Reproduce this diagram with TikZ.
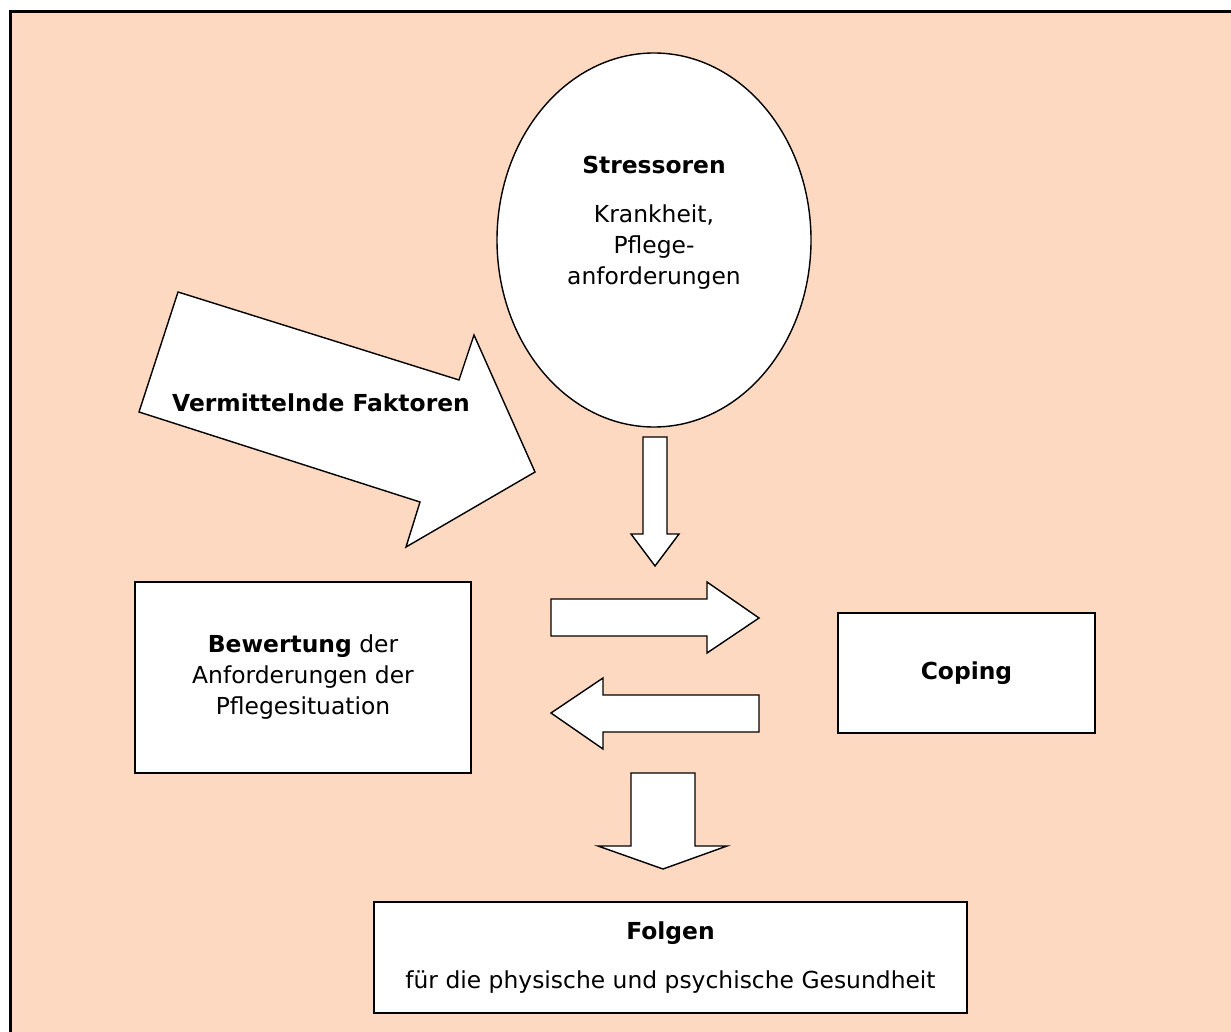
\documentclass[tikz,border=0pt]{standalone}
\usepackage{fontspec}
\setmainfont{DejaVu Sans}
\usetikzlibrary{shapes.geometric}
\definecolor{pfirsich}{RGB}{252,217,192}

\begin{document}
\begin{tikzpicture}[
  x=0.5pt, y=-0.5pt,
  font=\fontsize{11.7}{15.5}\selectfont,
  %% Box styles
  kasten/.style  = {draw, fill=white, line width=0.7pt,
                    align=center, inner sep=0pt},
  oval/.style    = {draw, fill=white, ellipse, line width=0.7pt,
                    minimum width=157pt, minimum height=187pt, inner sep=0pt},
  txt/.style     = {align=center, inner sep=0pt},
  blockpfeil/.style = {draw, fill=white, line width=0.7pt, line join=miter},
]

%% ── Background frame ───────────────────────────────────────────
\clip (0,0) rectangle (1231,1032);
\fill[white] (0,0) rectangle (1231,1032);
\filldraw[fill=pfirsich, line width=1.15pt] (10.5,11.5) rectangle (1260,1060);

%% ── Stressoren ─────────────────────────────────────────────────
\node[oval] (stress) at (654,240) {};
\node[txt, anchor=north] (stresstxt) at (654,156)
  {\textbf{Stressoren}\\[9pt]Krankheit,\\Pflege-\\anforderungen};

%% ── Vermittelnde Faktoren (big arrow) ──────────────────────────
\draw[blockpfeil] (178,292) -- (459,380) -- (474,335) -- (535,472)
  -- (406,547) -- (420,502) -- (139,412) -- cycle;
\node[txt, font=\fontsize{11.7}{15.5}\selectfont\bfseries] (faktoren) at (321,403)
  {Vermittelnde Faktoren};

%% ── Boxes ──────────────────────────────────────────────────────
\node[kasten, minimum width=168pt, minimum height=95.5pt] (bewertung) at (303,677.5)
  {\textbf{Bewertung} der\\Anforderungen der\\Pflegesituation};

\node[kasten, minimum width=128.5pt, minimum height=60pt] (coping) at (966.5,673)
  {\textbf{Coping}};

\node[kasten, minimum width=296.5pt, minimum height=55.5pt] (folgen) at (670.5,957.5)
  {\textbf{Folgen}\\[9pt]für die physische und psychische Gesundheit};

%% ── Block arrows ───────────────────────────────────────────────
% Stressoren -> down
\draw[blockpfeil] (643,437) -- (667,437) -- (667,534) -- (679,534)
  -- (655,566) -- (631,534) -- (643,534) -- cycle;
% Bewertung -> Coping
\draw[blockpfeil] (551,599) -- (707,599) -- (707,582) -- (759,618)
  -- (707,653) -- (707,636) -- (551,636) -- cycle;
% Coping -> Bewertung
\draw[blockpfeil] (759,695) -- (603,695) -- (603,678) -- (551,713)
  -- (603,749) -- (603,732) -- (759,732) -- cycle;
% -> Folgen
\draw[blockpfeil] (631,773) -- (695,773) -- (695,846) -- (727,846)
  -- (663,869) -- (598,846) -- (631,846) -- cycle;

\end{tikzpicture}
\end{document}
